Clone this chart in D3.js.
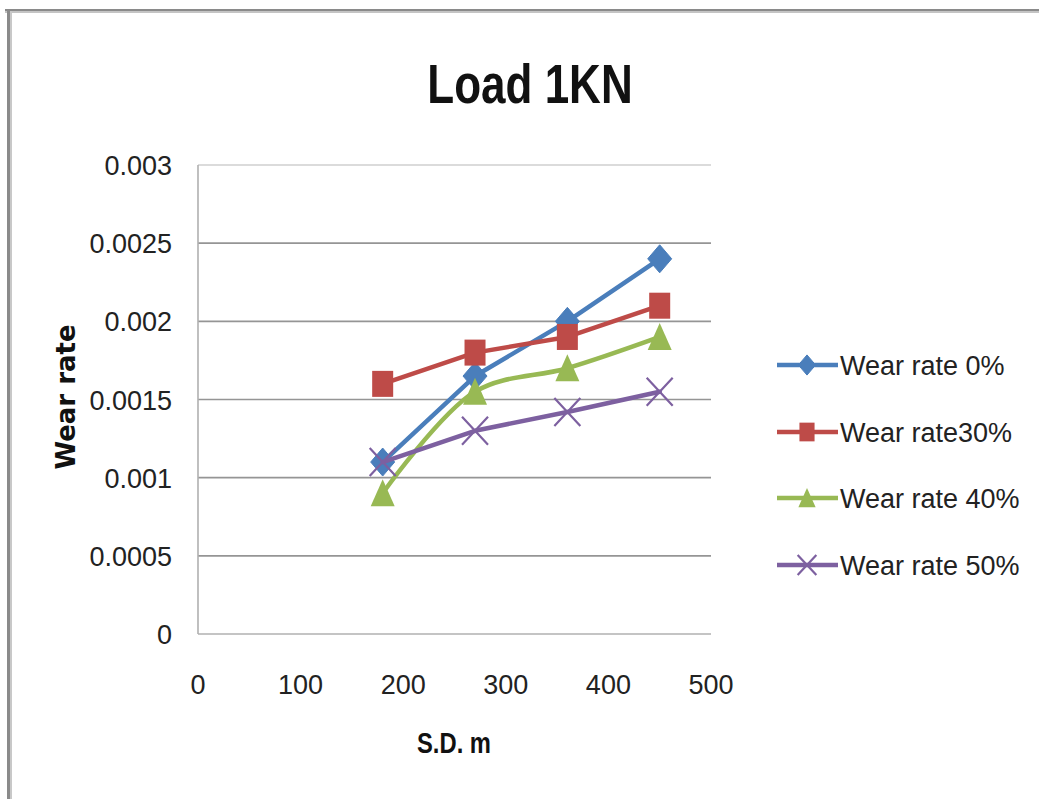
<!DOCTYPE html>
<html>
<head>
<meta charset="utf-8">
<script src="https://cdn.jsdelivr.net/npm/d3@7"></script>
<style>
  html, body { margin: 0; padding: 0; background: #fff; }
  svg { display: block; }
</style>
</head>
<body>
<svg id="chart" width="1039" height="799"></svg>
<script>
// Sliding distance (m) at which wear rate was measured
const distances = [180, 270, 360, 450];

// Wear rate per reinforcement content
const wear0  = [0.0011, 0.00165, 0.0020, 0.0024];
const wear30 = [0.0016, 0.0018, 0.0019, 0.0021];
const wear40 = [0.0009, 0.00155, 0.0017, 0.0019];
const wear50 = [0.0011, 0.0013, 0.00142, 0.00155];

const seriesNames = ["Wear rate 0%", "Wear rate30%", "Wear rate 40%", "Wear rate 50%"];
const seriesValues = [wear0, wear30, wear40, wear50];

const xTicks = [0, 100, 200, 300, 400, 500];
const yTicks = [0, 0.0005, 0.001, 0.0015, 0.002, 0.0025, 0.003];
const yTickLabels = ["0", "0.0005", "0.001", "0.0015", "0.002", "0.0025", "0.003"];

const styles = [
  { color: "#4a7ebb", marker: "diamond", smooth: false },
  { color: "#be4b48", marker: "square",  smooth: false },
  { color: "#98b954", marker: "triangle", smooth: true },
  { color: "#7d60a0", marker: "x",       smooth: false }
];

const svg = d3.select("#chart");

// Frame shadow along the top and left edges
const frame = svg.append("g");
frame.append("rect").attr("x", 5).attr("y", 9).attr("width", 1034).attr("height", 2).attr("fill", "#8a8a8a");
frame.append("rect").attr("x", 5).attr("y", 11).attr("width", 1034).attr("height", 2).attr("fill", "#c4c4c4");
frame.append("rect").attr("x", 7).attr("y", 9).attr("width", 3).attr("height", 790).attr("fill", "#8a8a8a");
frame.append("rect").attr("x", 10).attr("y", 11).attr("width", 2).attr("height", 788).attr("fill", "#c8c8c8");

const x = d3.scaleLinear().domain([0, 500]).range([198, 711]);
const y = d3.scaleLinear().domain([0, 0.003]).range([634, 165]);

// Horizontal gridlines
svg.append("g").selectAll("line")
  .data(yTicks.filter(v => v > 0))
  .join("line")
  .attr("x1", x(0)).attr("x2", x(500))
  .attr("y1", d => y(d)).attr("y2", d => y(d))
  .attr("stroke", d => d === 0.003 ? "#cfcfcf" : "#959595")
  .attr("stroke-width", 1.6);

// Axis lines
svg.append("line").attr("x1", x(0)).attr("x2", x(0)).attr("y1", y(0)).attr("y2", y(0.003))
  .attr("stroke", "#b0b0b0").attr("stroke-width", 1.6);
svg.append("line").attr("x1", x(0)).attr("x2", x(500)).attr("y1", y(0)).attr("y2", y(0))
  .attr("stroke", "#b0b0b0").attr("stroke-width", 1.6);

const labelFont = "'Liberation Sans', Arial, sans-serif";

// Y tick labels
svg.append("g").selectAll("text")
  .data(yTicks)
  .join("text")
  .attr("x", 172)
  .attr("y", d => y(d) + 10)
  .attr("text-anchor", "end")
  .attr("font-family", labelFont)
  .attr("font-size", 27)
  .attr("fill", "#222")
  .text((d, i) => yTickLabels[i]);

// X tick labels
svg.append("g").selectAll("text")
  .data(xTicks)
  .join("text")
  .attr("x", d => x(d))
  .attr("y", 694)
  .attr("text-anchor", "middle")
  .attr("font-family", labelFont)
  .attr("font-size", 27)
  .attr("fill", "#222")
  .text(d => d);

// Title
svg.append("text")
  .attr("transform", "translate(530,103) scale(0.8,1)")
  .attr("text-anchor", "middle")
  .attr("font-family", labelFont)
  .attr("font-weight", "bold")
  .attr("font-size", 55)
  .attr("fill", "#111")
  .text("Load 1KN");

// Axis titles
svg.append("text")
  .attr("transform", "translate(454,753) scale(0.82,1)")
  .attr("text-anchor", "middle")
  .attr("font-family", labelFont)
  .attr("font-weight", "bold")
  .attr("font-size", 29)
  .attr("fill", "#111")
  .text("S.D. m");

svg.append("text")
  .attr("transform", "translate(75,397) rotate(-90)")
  .attr("text-anchor", "middle")
  .attr("font-family", "'DejaVu Sans', Verdana, sans-serif")
  .attr("font-weight", "bold")
  .attr("font-size", 26)
  .attr("fill", "#111")
  .text("Wear rate");

// Marker drawing
function drawMarker(g, type, color, s) {
  if (type === "diamond") {
    g.append("path")
      .attr("d", `M0,${-14 * s}L${12 * s},0L0,${14 * s}L${-12 * s},0Z`)
      .attr("fill", color).attr("stroke", color).attr("stroke-width", 1);
  } else if (type === "square") {
    g.append("rect")
      .attr("x", -10.5 * s).attr("y", -13 * s)
      .attr("width", 21 * s).attr("height", 26 * s)
      .attr("fill", color);
  } else if (type === "triangle") {
    g.append("path")
      .attr("d", `M0,${-14 * s}L${12 * s},${13 * s}L${-12 * s},${13 * s}Z`)
      .attr("fill", color);
  } else if (type === "x") {
    g.append("path")
      .attr("d", `M${-13 * s},${-14 * s}L${13 * s},${14 * s}M${13 * s},${-14 * s}L${-13 * s},${14 * s}`)
      .attr("stroke", color).attr("stroke-width", 2.2).attr("fill", "none");
  }
}

// Series lines and markers
seriesValues.forEach((vals, si) => {
  const st = styles[si];
  const pts = distances.map((d, i) => [d, vals[i]]);
  const line = d3.line()
    .x(d => x(d[0])).y(d => y(d[1]))
    .curve(st.smooth ? d3.curveCatmullRom.alpha(0.5) : d3.curveLinear);
  const g = svg.append("g");
  g.append("path")
    .attr("d", line(pts))
    .attr("fill", "none")
    .attr("stroke", st.color)
    .attr("stroke-width", 4.5)
    .attr("stroke-linejoin", "round")
    .attr("stroke-linecap", "round");
  pts.forEach(p => {
    const m = g.append("g").attr("transform", `translate(${x(p[0])},${y(p[1])})`);
    drawMarker(m, st.marker, st.color, 1);
  });
});

// Legend
const legendRows = [365, 432, 498, 565];
seriesNames.forEach((name, i) => {
  const st = styles[i];
  const g = svg.append("g").attr("transform", `translate(0,${legendRows[i]})`);
  g.append("line").attr("x1", 777).attr("x2", 838).attr("y1", 0).attr("y2", 0)
    .attr("stroke", st.color).attr("stroke-width", 4.5);
  const m = g.append("g").attr("transform", "translate(807,0)");
  drawMarker(m, st.marker, st.color, 0.72);
  g.append("text")
    .attr("x", 840).attr("y", 10)
    .attr("font-family", labelFont)
    .attr("font-size", 27)
    .attr("fill", "#222")
    .text(name);
});
</script>
</body>
</html>
